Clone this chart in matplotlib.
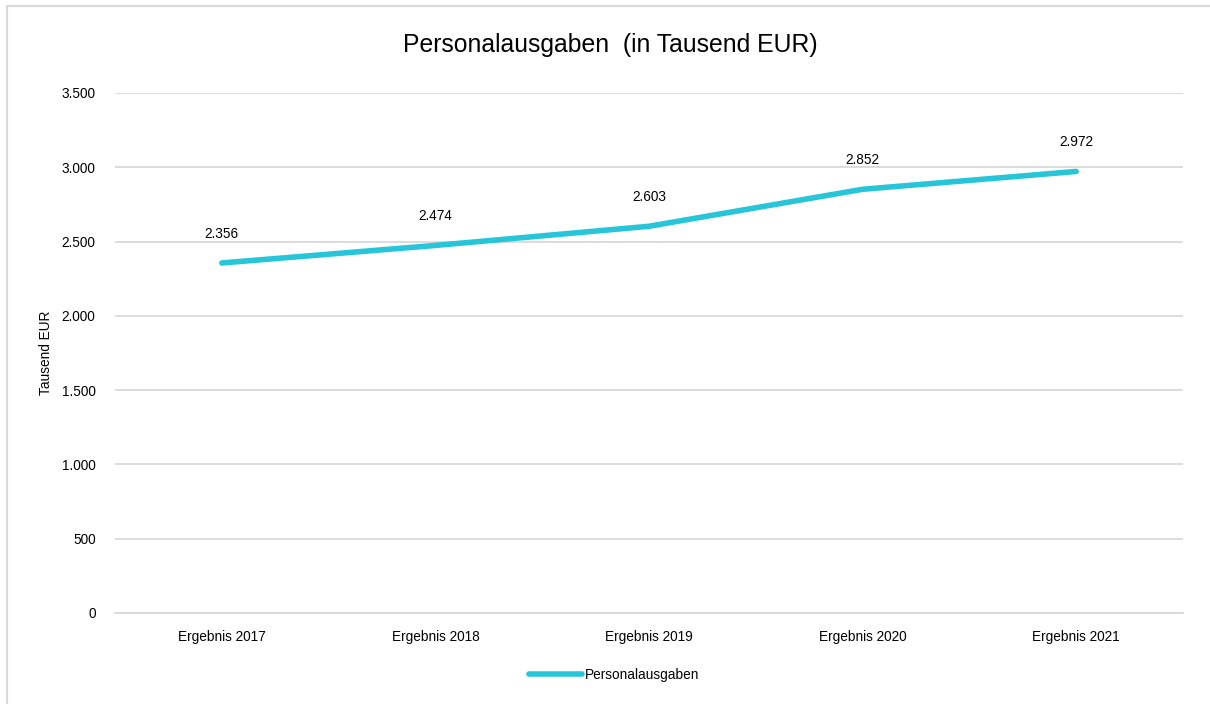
import matplotlib
matplotlib.use("Agg")
from matplotlib import pyplot as plt
from matplotlib.patches import Rectangle

# Daten
kategorien = ["Ergebnis 2017", "Ergebnis 2018", "Ergebnis 2019", "Ergebnis 2020", "Ergebnis 2021"]
ausgaben = [2356, 2474, 2603, 2852, 2972]
y_ticks = [0, 500, 1000, 1500, 2000, 2500, 3000, 3500]

plt.rcParams['font.family'] = ['Liberation Sans Narrow', 'Liberation Sans', 'DejaVu Sans']

fig = plt.figure(figsize=(12.1, 7.04), dpi=100)
ax = fig.add_axes([115 / 1210, 1 - 613 / 704, 1068 / 1210, 520 / 704])

# Rahmen um das Diagramm
fig.patches.append(Rectangle((7 / 1210, -0.01), 1.0, 1 - 6 / 704 + 0.01, transform=fig.transFigure,
                             fill=False, edgecolor='#d9d9d9', linewidth=1.5))

xs = list(range(len(kategorien)))
ax.plot(xs, ausgaben, color='#26c5d8', linewidth=4, solid_capstyle='round', label='Personalausgaben')

def fmt(v):
    return f"{v:,}".replace(",", ".")

for x, v in zip(xs, ausgaben):
    ax.annotate(fmt(v), xy=(x, v), xytext=(0, 21), textcoords='offset points',
                ha='center', va='center', fontsize=9.8, color='#000000')

ax.set_xlim(-0.5, 4.5)
ax.set_ylim(0, 3500)
ax.set_yticks(y_ticks)
ax.set_yticklabels([fmt(t) for t in y_ticks], fontsize=9.8)
ax.set_xticks(xs)
ax.set_xticklabels(kategorien, fontsize=9.8)
ax.tick_params(length=0, pad=14)
ax.tick_params(axis='x', pad=12)

ax.grid(axis='y', color='#d9d9d9', linewidth=1.3)
ax.set_axisbelow(True)
for s in ['top', 'right', 'left']:
    ax.spines[s].set_visible(False)
ax.spines['bottom'].set_color('#d9d9d9')
ax.spines['bottom'].set_linewidth(1.3)

ax.set_ylabel("Tausend EUR", fontsize=9.8)
ax.yaxis.set_label_coords(-62 / 1068, 0.5)

fig.text(610 / 1210, 1 - 45 / 704, "Personalausgaben  (in Tausend EUR)", ha='center', va='center', fontsize=17.8)

fig.legend(loc='center', bbox_to_anchor=(614 / 1210, 1 - 675 / 704), frameon=False,
           fontsize=9.8, handlelength=3.9, handletextpad=0.2)

fig.savefig("out.png", dpi=100)
